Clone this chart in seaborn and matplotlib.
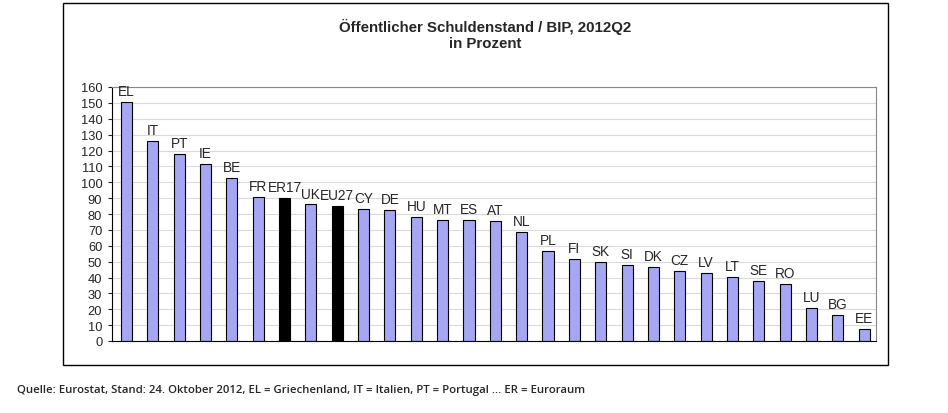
import matplotlib
matplotlib.use("Agg")
import matplotlib.pyplot as plt
import seaborn as sns
import pandas as pd
from matplotlib.patches import Rectangle

countries = ["EL", "IT", "PT", "IE", "BE", "FR", "ER17", "UK", "EU27", "CY",
             "DE", "HU", "MT", "ES", "AT", "NL", "PL", "FI", "SK", "SI",
             "DK", "CZ", "LV", "LT", "SE", "RO", "LU", "BG", "EE"]
debt = [150.3, 126.1, 117.5, 111.5, 102.5, 91.0, 90.0, 86.0, 85.0, 83.3,
        82.8, 78.4, 76.4, 76.0, 75.3, 68.4, 57.0, 51.9, 50.0, 48.1,
        46.9, 43.8, 43.0, 40.6, 37.6, 35.7, 20.9, 16.3, 7.3]
aggregates = ["ER17", "EU27"]

df = pd.DataFrame({"land": countries, "wert": debt})
df["gruppe"] = ["agg" if c in aggregates else "land" for c in countries]

sns.set_style("white")
plt.rcParams["font.family"] = ["Liberation Sans", "DejaVu Sans"]

fig = plt.figure(figsize=(9.48, 4.14), dpi=100)
# outer frame around the chart
fig.patches.append(Rectangle((63 / 948, 1 - 366 / 414), 825 / 948, 362 / 414,
                             transform=fig.transFigure, fill=False,
                             edgecolor="black", linewidth=1.0))

ax = fig.add_axes([112 / 948, 1 - 342 / 414, 764 / 948, 254 / 414])
sns.barplot(data=df, x="land", y="wert", hue="gruppe",
            palette={"land": "#9999FF", "agg": "black"},
            edgecolor="black", linewidth=0.8, width=0.42,
            dodge=False, legend=False, ax=ax)

for i, (c, v) in enumerate(zip(countries, debt)):
    ax.text(i, v + 2.5, c, ha="center", va="bottom", fontsize=9.8)

ax.set_ylim(0, 160)
ax.set_xlim(-0.55, len(countries) - 0.55)
ax.set_yticks(range(0, 161, 10))
ax.tick_params(axis="y", labelsize=9.3, length=3, direction="out", left=True, pad=4)
ax.set_xticks([])
ax.set_xlabel("")
ax.set_ylabel("")
ax.yaxis.grid(True, color="#d9d9d9", linewidth=0.8)
ax.set_axisbelow(True)
for s in ["top", "right"]:
    ax.spines[s].set_color("#888888")
    ax.spines[s].set_linewidth(0.8)
for s in ["left", "bottom"]:
    ax.spines[s].set_color("black")
    ax.spines[s].set_linewidth(0.8)

fig.text(485 / 948, 1 - 27 / 414, "Öffentlicher Schuldenstand / BIP, 2012Q2",
         ha="center", va="center", fontsize=10.8, fontweight="bold")
fig.text(485 / 948, 1 - 44 / 414, "in Prozent",
         ha="center", va="center", fontsize=10.8, fontweight="bold")

fig.text(17 / 948, 1 - 391 / 414,
         "Quelle: Eurostat, Stand: 24. Oktober 2012, EL = Griechenland, IT = Italien, PT = Portugal ... ER = Euroraum",
         ha="left", va="center", fontsize=8.2, fontweight="semibold",
         family=["Open Sans", "DejaVu Sans"])

fig.savefig("out.png", dpi=100)
